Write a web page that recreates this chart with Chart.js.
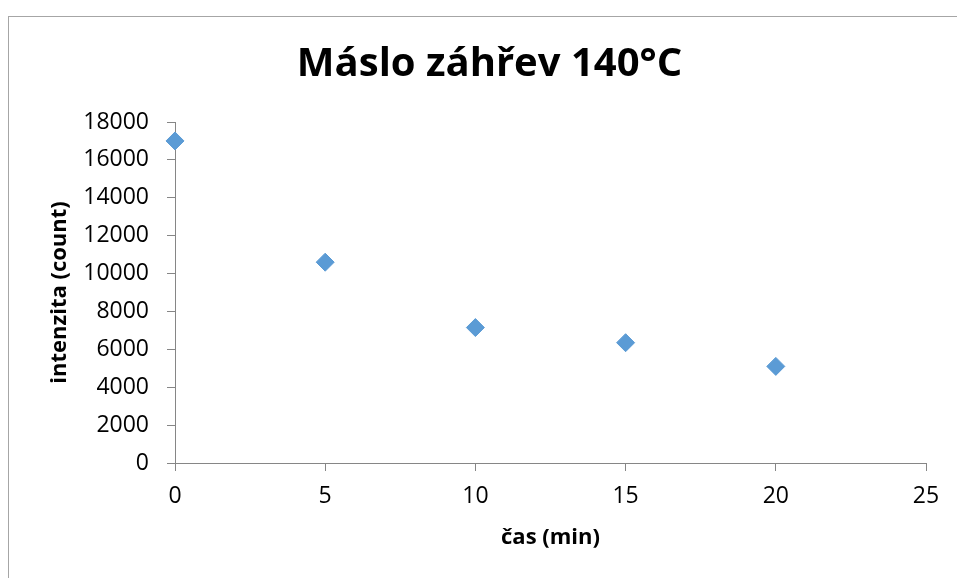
<!DOCTYPE html>
<html>
<head>
<meta charset="utf-8">
<title>Máslo záhřev 140°C</title>
<script src="https://cdn.jsdelivr.net/npm/chart.js@4/dist/chart.umd.min.js"></script>
<style>
  html, body { margin: 0; padding: 0; background: #ffffff; }
  canvas { display: block; }
</style>
</head>
<body>
<canvas id="chart" width="957" height="578"></canvas>
<script>
// Heating time in minutes and measured intensity
const times = [0, 5, 10, 15, 20];
const intensities = [17000, 10600, 7150, 6350, 5100];

// Axis ranges and steps
const xRange = [0, 25];
const xStep = 5;
const yRange = [0, 18000];
const yStep = 2000;

const chartTitle = 'Máslo záhřev 140°C';
const xTitle = 'čas (min)';
const yTitle = 'intenzita (count)';

const FONT = '"Open Sans", Lato, sans-serif';
const AXIS_GREY = '#868686';

// Light frame around the whole chart
const framePlugin = {
  id: 'frame',
  beforeDraw(chart) {
    const ctx = chart.ctx;
    ctx.save();
    ctx.fillStyle = '#ffffff';
    ctx.fillRect(0, 0, chart.width, chart.height);
    ctx.strokeStyle = '#a6a6a6';
    ctx.lineWidth = 1;
    ctx.strokeRect(8.5, 16.5, chart.width + 20, chart.height + 20);
    ctx.restore();
  }
};

const points = times.map((t, i) => ({ x: t, y: intensities[i] }));
const plainNumber = (value) => String(value);

new Chart(document.getElementById('chart'), {
  type: 'scatter',
  data: {
    datasets: [{
      data: points,
      clip: false,
      pointStyle: 'rectRot',
      pointRadius: 9,
      pointHoverRadius: 9,
      backgroundColor: '#5b9bd5',
      borderColor: '#5b9bd5',
      borderWidth: 1
    }]
  },
  options: {
    responsive: false,
    animation: false,
    events: [],
    // left padding shifts the centred title to the right
    layout: { padding: { left: 53, right: 31, top: 0, bottom: 0 } },
    plugins: {
      legend: { display: false },
      tooltip: { enabled: false },
      title: {
        display: true,
        text: chartTitle,
        color: '#000000',
        font: { family: FONT, size: 40, weight: 'bold', lineHeight: 1.2 },
        padding: { top: 41, bottom: 33 }
      }
    },
    scales: {
      x: {
        type: 'linear',
        min: xRange[0],
        max: xRange[1],
        afterFit(scale) { scale.height = 115; },
        ticks: {
          stepSize: xStep,
          color: '#000000',
          padding: 12,
          font: { family: FONT, size: 23 },
          callback: plainNumber
        },
        grid: {
          display: true,
          drawOnChartArea: false,
          drawTicks: true,
          tickLength: 8,
          color: AXIS_GREY
        },
        border: { display: true, color: AXIS_GREY, width: 1 },
        title: {
          display: true,
          text: xTitle,
          color: '#000000',
          font: { family: FONT, size: 22, weight: 'bold', lineHeight: 1.2 },
          padding: { top: 0, bottom: 27 }
        }
      },
      y: {
        type: 'linear',
        min: yRange[0],
        max: yRange[1],
        afterFit(scale) { scale.width = 122; },
        ticks: {
          stepSize: yStep,
          color: '#000000',
          padding: 18,
          font: { family: FONT, size: 23 },
          callback: plainNumber
        },
        grid: {
          display: true,
          drawOnChartArea: false,
          drawTicks: true,
          tickLength: 8,
          color: AXIS_GREY
        },
        border: { display: true, color: AXIS_GREY, width: 1 },
        title: {
          display: true,
          text: yTitle,
          color: '#000000',
          font: { family: FONT, size: 22, weight: 'bold', lineHeight: 1.2 },
          padding: { top: -6, bottom: 0 }
        }
      }
    }
  },
  plugins: [framePlugin]
});
</script>
</body>
</html>
